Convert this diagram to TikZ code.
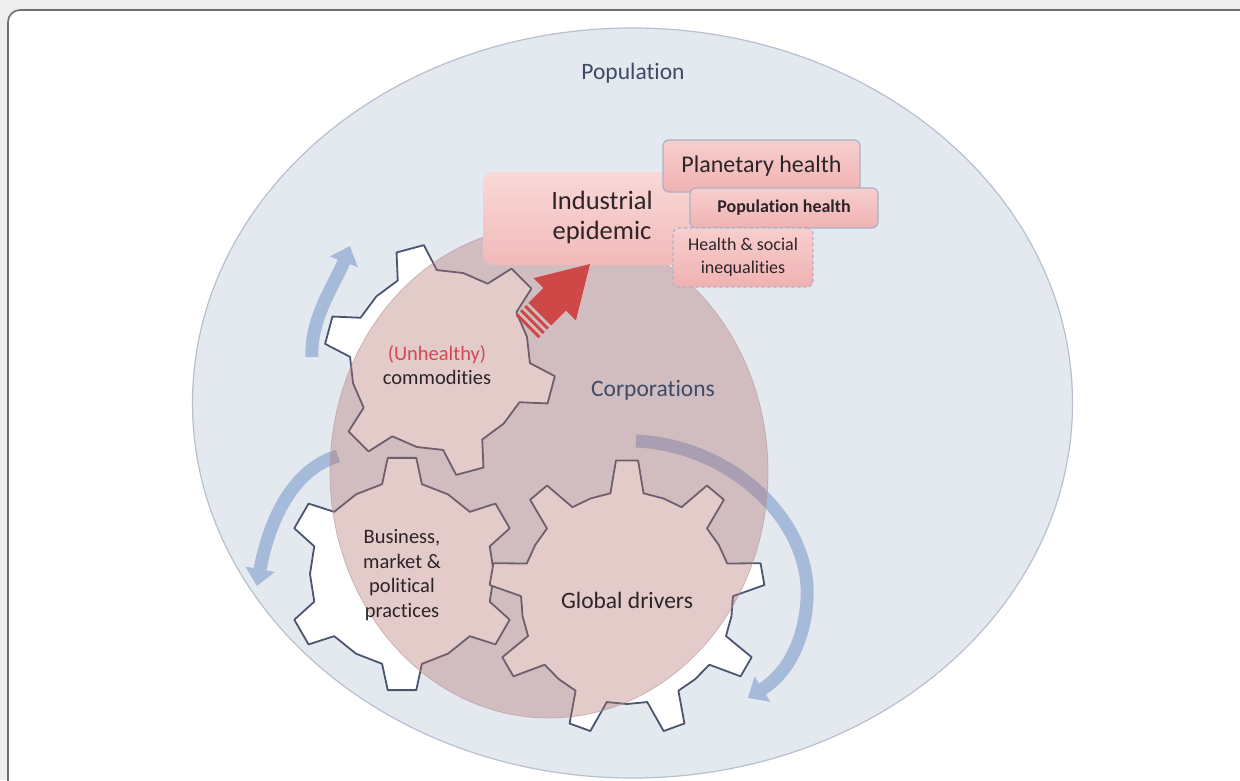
\documentclass[tikz,border=0pt]{standalone}
\usepackage{fontspec}
\setmainfont{Carlito}[Ligatures=NoCommon]
\usetikzlibrary{arrows.meta}

\definecolor{pagegrey}{RGB}{238,238,238}
\definecolor{framecol}{RGB}{110,110,110}
\definecolor{popfill}{RGB}{228,233,240}
\definecolor{popline}{RGB}{182,192,208}
\definecolor{bendblue}{RGB}{166,186,218}
\definecolor{gearline}{RGB}{74,86,112}
\definecolor{corpfill}{RGB}{178,112,108}
\definecolor{corpline}{RGB}{185,150,155}
\definecolor{redarrow}{RGB}{206,72,72}
\definecolor{txtdark}{RGB}{44,36,40}
\definecolor{txtblue}{RGB}{62,74,102}
\definecolor{unhealthy}{RGB}{212,72,86}
\definecolor{pinktop}{RGB}{248,206,206}
\definecolor{pinkbot}{RGB}{240,178,178}
\definecolor{boxline}{RGB}{168,178,200}

% outline of a spur gear: teeth, tip radius, root radius,
% tip half-angle, root half-angle, angle of the first tooth
\newcommand\gearoutline[6]{%
  ({#6-#5}:#3)
  \foreach \k in {1,...,#1}{
    -- ({#6+(\k-1)*360/#1-#4}:#2)
    -- ({#6+(\k-1)*360/#1+#4}:#2)
    -- ({#6+(\k-1)*360/#1+#5}:#3)
    -- ({#6+(\k-0.5)*360/#1}:#3)
    -- ({#6+\k*360/#1-#5}:#3)
  } -- cycle}

\begin{document}
\begin{tikzpicture}[x=1pt,y=-1pt,
  gearbody/.style={draw=gearline, line width=1.8pt, fill=white, line join=round},
  turnarrow/.style={draw=bendblue, line width=13pt,
    -{Triangle[length=17pt,width=29pt]}},
  gtext/.style={text=txtdark, align=center, font=\fontsize{20.5}{24.5}\selectfont},
  pinkbox/.style={draw=boxline, line width=1.2pt, rounded corners=6pt,
    top color=pinktop, bottom color=pinkbot, inner sep=0pt},
  setlabel/.style={text=txtblue, font=\fontsize{23.5}{28}\selectfont}]

\useasboundingbox (0,0) rectangle (1240,780);
\clip (0,0) rectangle (1240,780);

% page and frame
\fill[pagegrey] (0,0) rectangle (1240,780);
\draw[framecol, line width=1.6pt, fill=white, rounded corners=12pt]
  (8,10) rectangle (1275,815);

% population
\draw[popline, fill=popfill, line width=1.2pt]
  (632.5,403) ellipse [x radius=440, y radius=375];
\node[setlabel] (population) at (633,73) {Population};

% rotation arrows around the gears
\draw[turnarrow] (312,357) .. controls (310,318) and (336,282) .. (350,246);
\draw[turnarrow] (338,456) .. controls (296,468) and (270,515) .. (257,586);
\draw[turnarrow] (636,441) .. controls (730,445) and (812,520) .. (807,600)
  .. controls (804,645) and (785,675) .. (748,698);

% gears
\begin{scope}[shift={(440,360)}]
  \path[gearbody] \gearoutline{6}{116}{90}{7}{13}{-45};
\end{scope}
\begin{scope}[shift={(402,574)}]
  \path[gearbody] \gearoutline{6}{117}{92}{7}{12.5}{-90};
\end{scope}
\begin{scope}[shift={(627,598)}]
  \path[gearbody] \gearoutline{9}{138}{106}{4.6}{9}{-90};
\end{scope}

% corporations
\fill[corpfill, fill opacity=0.36]
  (549,472) ellipse [x radius=219, y radius=246];
\draw[corpline, line width=0.8pt, draw opacity=0.6]
  (549,472) ellipse [x radius=219, y radius=246];
\node[setlabel] (corporations) at (653,390) {Corporations};

% gear labels
\node[gtext] (commodities) at (437,365)
  {\textcolor{unhealthy}{(Unhealthy)}\\commodities};
\node[gtext] (practices) at (402,575)
  {Business,\\market \&\\political\\practices};
\node[gtext, font=\fontsize{23.5}{28}\selectfont] (drivers) at (627,600)
  {Global drivers};

% outcome boxes
\node[pinkbox, draw=none, rounded corners=10pt,
  top color=pinktop!80!white, bottom color=pinkbot!90!white,
  minimum width=207pt, minimum height=93pt] (indbox) at (586.5,218.5) {};
\node[text=txtdark, align=center, font=\fontsize{26.5}{30}\selectfont]
  (industrial) at (602,217) {Industrial\\epidemic};
\node[pinkbox, minimum width=197pt, minimum height=52pt,
  text=txtdark, font=\fontsize{24}{28}\selectfont]
  (planetary) at (761.5,166) {Planetary health};
\node[pinkbox, minimum width=188pt, minimum height=40pt,
  text=txtdark, font=\fontsize{18}{22}\bfseries\selectfont]
  (pophealth) at (784,208) {Population health};
\node[pinkbox, dashed, minimum width=140pt, minimum height=59pt,
  text=txtdark, align=center, font=\fontsize{18}{23}\selectfont]
  (inequal) at (743,257.5) {Health \& social\\inequalities};

% striped block arrow towards the epidemic
\begin{scope}[shift={(590,264)}, rotate=45]
  \fill[redarrow] (0,0) -- (-50,-30) -- (-50,-16) -- (-71,-16)
    -- (-71,16) -- (-50,16) -- (-50,30) -- cycle;
  \fill[redarrow] (-77,-16) rectangle (-74,16);
  \fill[redarrow] (-83,-16) rectangle (-80,16);
  \fill[redarrow] (-89,-16) rectangle (-86,16);
\end{scope}

\end{tikzpicture}
\end{document}
